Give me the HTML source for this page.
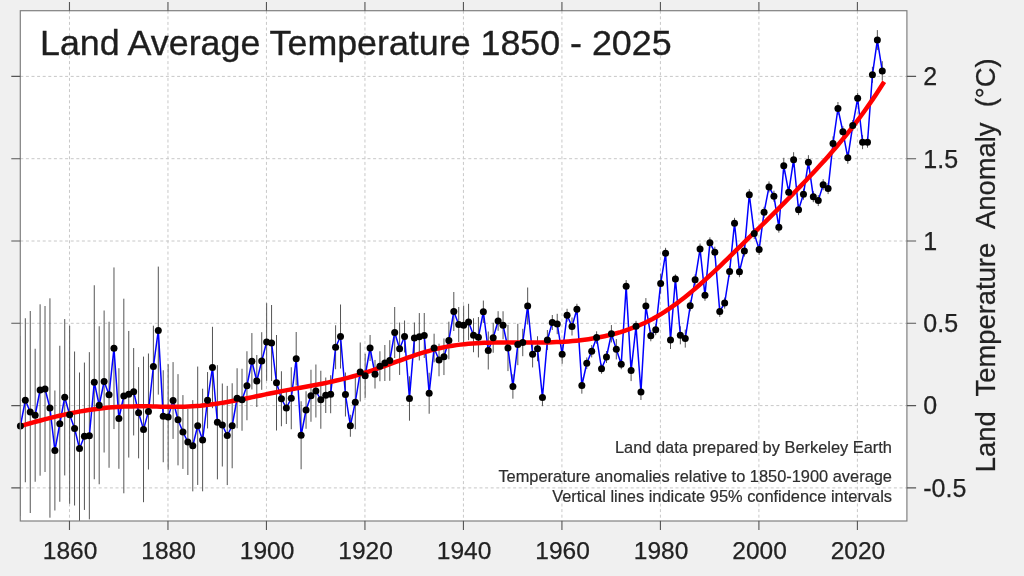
<!DOCTYPE html><html><head><meta charset="utf-8"><style>html,body{margin:0;padding:0;background:#f0f0f0;width:1024px;height:576px;overflow:hidden}svg{display:block;will-change:transform}text{font-family:"Liberation Sans",sans-serif}</style></head><body>
<svg width="1024" height="576" viewBox="0 0 1024 576">
<rect x="0" y="0" width="1024" height="576" fill="#f0f0f0"/>
<defs><clipPath id="pc"><rect x="20.3" y="10.7" width="886.6" height="510.3"/></clipPath></defs>
<rect x="20.3" y="10.7" width="886.6" height="510.3" fill="#ffffff"/>
<path d="M69.47 10.7V521.0M167.96 10.7V521.0M266.45 10.7V521.0M364.94 10.7V521.0M463.43 10.7V521.0M561.93 10.7V521.0M660.42 10.7V521.0M758.91 10.7V521.0M857.4 10.7V521.0M20.3 487.9H906.9M20.3 405.6H906.9M20.3 323.3H906.9M20.3 241H906.9M20.3 158.7H906.9M20.3 76.4H906.9" stroke="#c8c8c8" stroke-width="1" stroke-dasharray="3 2.6" fill="none"/>
<path d="M20.4 336V516M25.32 318.25V482.25M30.25 311V513M35.17 348.75V481.75M40.1 304.3V475.7M45.02 306V472M49.95 298.3V517.7M54.88 390.5V510.5M59.8 345.75V501.75M64.72 319.05V475.45M69.65 325.75V503.75M74.57 351.5V505.5M79.5 372.5V524.5M84.42 362.55V509.95M89.35 352.15V519.35M94.28 285.25V479.25M99.2 326.25V484.25M104.12 310.5V452.5M109.05 321.75V467.75M113.97 267.45V429.05M118.9 368.2V468.8M123.82 298.7V493.3M128.75 330.95V457.55M133.67 348.05V435.45M138.6 367.15V458.35M143.53 356.6V502.2M148.45 353.5V469.5M153.38 325.7V407.3M158.3 266.6V394.6M163.22 370.25V462.25M168.15 364.2V469.8M173.07 362.1V438.9M178 374.15V465.35M182.93 395.1V468.9M187.85 409V475M192.78 400.15V491.35M197.7 366.55V484.95M202.62 388.7V491.3M207.55 372.05V428.45M212.47 326.8V408.2M217.4 365.15V479.35M222.32 383.5V466.5M227.25 385.9V485.1M232.18 383.25V468.25M237.1 368.25V428.25M242.03 368.75V430.75M246.95 351.25V420.25M251.88 333.05V389.45M256.8 355V407M261.72 332.2V389.8M266.65 303.2V380.8M271.57 305V381M276.5 335V430.5M281.42 371.25V426.25M286.35 392V424M291.27 367.25V429.25M296.2 332V385.5M301.12 401.25V469.25M306.05 391.25V428.75M310.97 369.75V421.75M315.9 364.5V417.5M320.82 370.75V428.75M325.75 377.5V413M330.67 375.25V413.25M335.6 325.25V369.25M340.52 304.5V368.5M345.45 372.5V416.5M350.37 414.75V436.75M355.3 375.25V429.25M360.22 342.5V401.5M365.15 353.75V397.75M370.07 335V361M375 359.95V388.55M379.92 351.25V381.25M384.85 345V381M389.77 340.2V380.8M394.7 307V358M399.62 322.55V374.95M404.55 320.5V352.5M409.47 376.3V420.7M414.4 322.5V353.5M419.32 313.05V360.45M424.25 313V358M429.17 372.75V413.75M434.1 333.7V362.3M439.02 343.7V376.3M443.95 338.45V375.05M448.87 321.7V359.3M453.8 292V331M458.72 307V342M463.65 305.55V344.95M468.57 303.8V340.2M473.5 318.25V352.25M478.42 317.05V357.45M483.35 300.55V322.95M488.27 331.5V369.5M493.2 322.75V352.75M498.12 311.2V330.8M503.05 311.25V339.25M507.97 324.9V371.1M512.9 374.3V398.7M517.82 323.8V365.2M522.75 328.8V356.2M527.67 287.5V324.5M532.6 341.05V367.45M537.52 336.25V361.25M542.45 388.8V406.2M547.38 330V350M552.3 315V330M557.22 313.8V334.2M562.15 344.75V363.75M567.07 308.75V321.75M572 317.5V335.5M576.92 303.75V314.75M581.85 377.3V393.7M586.77 357.45V369.05M591.7 345.05V357.45M596.62 331.3V343.7M601.55 363.75V373.75M606.47 351V363M611.4 325.05V342.45M616.32 339.05V359.45M621.25 359.25V369.25M626.17 280.05V292.45M631.1 360.1V381.1M636.02 320.8V331.8M640.95 384V400M645.88 298.1V314.1M650.8 330.3V341.3M655.72 324.2V335.2M660.65 273.6V293.6M665.57 247.8V258.8M670.5 331V349M675.42 274.4V283.4M680.35 326.3V344.3M685.27 329.6V347.6M690.2 300.3V311.3M695.12 274.3V285.3M700.05 243.5V254.5M704.97 289.8V300.8M709.9 237.3V248.3M714.82 246.7V257.7M719.75 305.9V316.9M724.67 297.6V308.6M729.6 265.9V276.9M734.52 217.8V228.8M739.45 266.2V277.2M744.38 245.6V256.6M749.3 189.2V200.2M754.22 228.1V239.1M759.15 243.9V254.9M764.07 206.8V217.8M769 181.4V192.4M773.92 190.7V201.7M778.85 221.7V232.7M783.77 157.8V173.8M788.7 186.7V197.7M793.62 152.2V167.2M798.55 204.2V215.2M803.47 188.7V199.7M808.4 155.2V169.2M813.32 191.2V202.2M818.25 195.1V206.1M823.17 179.2V190.2M828.1 183.1V194.1M833.02 136.4V150.4M837.95 102V115M842.88 126.2V137.2M847.8 151.8V163.8M852.72 120.1V131.1M857.65 92.8V103.8M862.57 135.2V149.2M867.5 136.7V147.7M872.42 66.8V82.8M877.35 30.1V50.1M882.27 61.2V80.6" stroke="#555555" stroke-width="1" fill="none" clip-path="url(#pc)"/>
<polyline points="20.4,426 25.32,400.25 30.25,412 35.17,415.25 40.1,390 45.02,389 49.95,408 54.88,450.5 59.8,423.75 64.72,397.25 69.65,414.75 74.57,428.5 79.5,448.5 84.42,436.25 89.35,435.75 94.28,382.25 99.2,405.25 104.12,381.5 109.05,394.75 113.97,348.25 118.9,418.5 123.82,396 128.75,394.25 133.67,391.75 138.6,412.75 143.53,429.4 148.45,411.5 153.38,366.5 158.3,330.6 163.22,416.25 168.15,417 173.07,400.5 178,419.75 182.93,432 187.85,442 192.78,445.75 197.7,425.75 202.62,440 207.55,400.25 212.47,367.5 217.4,422.25 222.32,425 227.25,435.5 232.18,425.75 237.1,398.25 242.03,399.75 246.95,385.75 251.88,361.25 256.8,381 261.72,361 266.65,342 271.57,343 276.5,382.75 281.42,398.75 286.35,408 291.27,398.25 296.2,358.75 301.12,435.25 306.05,410 310.97,395.75 315.9,391 320.82,399.75 325.75,395.25 330.67,394.25 335.6,347.25 340.52,336.5 345.45,394.5 350.37,425.75 355.3,402.25 360.22,372 365.15,375.75 370.07,348 375,374.25 379.92,366.25 384.85,363 389.77,360.5 394.7,332.5 399.62,348.75 404.55,336.5 409.47,398.5 414.4,338 419.32,336.75 424.25,335.5 429.17,393.25 434.1,348 439.02,360 443.95,356.75 448.87,340.5 453.8,311.5 458.72,324.5 463.65,325.25 468.57,322 473.5,335.25 478.42,337.25 483.35,311.75 488.27,350.5 493.2,337.75 498.12,321 503.05,325.25 507.97,348 512.9,386.5 517.82,344.5 522.75,342.5 527.67,306 532.6,354.25 537.52,348.75 542.45,397.5 547.38,340 552.3,322.5 557.22,324 562.15,354.25 567.07,315.25 572,326.5 576.92,309.25 581.85,385.5 586.77,363.25 591.7,351.25 596.62,337.5 601.55,368.75 606.47,357 611.4,333.75 616.32,349.25 621.25,364.25 626.17,286.25 631.1,370.6 636.02,326.3 640.95,392 645.88,306.1 650.8,335.8 655.72,329.7 660.65,283.6 665.57,253.3 670.5,340 675.42,278.9 680.35,335.3 685.27,338.6 690.2,305.8 695.12,279.8 700.05,249 704.97,295.3 709.9,242.8 714.82,252.2 719.75,311.4 724.67,303.1 729.6,271.4 734.52,223.3 739.45,271.7 744.38,251.1 749.3,194.7 754.22,233.6 759.15,249.4 764.07,212.3 769,186.9 773.92,196.2 778.85,227.2 783.77,165.8 788.7,192.2 793.62,159.7 798.55,209.7 803.47,194.2 808.4,162.2 813.32,196.7 818.25,200.6 823.17,184.7 828.1,188.6 833.02,143.4 837.95,108.5 842.88,131.7 847.8,157.8 852.72,125.6 857.65,98.3 862.57,142.2 867.5,142.2 872.42,74.8 877.35,40.1 882.27,70.9" stroke="#0000ff" stroke-width="1.5" fill="none" stroke-linejoin="round"/>
<path d="M20.5 426.04 L24.5 424.89 L28.5 423.75 L32.5 422.63 L36.5 421.53 L40.5 420.46 L44.5 419.41 L48.5 418.38 L52.5 417.39 L56.5 416.43 L60.5 415.5 L64.5 414.6 L68.5 413.74 L72.5 412.92 L76.5 412.14 L80.5 411.4 L84.5 410.71 L88.5 410.06 L92.5 409.46 L96.5 408.91 L100.5 408.41 L104.5 407.97 L108.5 407.58 L112.5 407.24 L116.5 406.97 L120.5 406.76 L124.5 406.59 L128.5 406.48 L132.5 406.41 L136.5 406.36 L140.5 406.35 L144.5 406.35 L148.5 406.37 L152.5 406.45 L156.5 406.55 L160.5 406.65 L164.5 406.73 L168.5 406.79 L172.5 406.83 L176.5 406.83 L180.5 406.8 L184.5 406.71 L188.5 406.57 L192.5 406.37 L196.5 406.11 L200.5 405.79 L204.5 405.34 L208.5 404.85 L212.5 404.31 L216.5 403.72 L220.5 403.1 L224.5 402.44 L228.5 401.75 L232.5 401.02 L236.5 400.28 L240.5 399.51 L244.5 398.72 L248.5 397.92 L252.5 397.11 L256.5 396.29 L260.5 395.46 L264.5 394.64 L268.5 393.81 L272.5 393 L276.5 392.19 L280.5 391.39 L284.5 390.61 L288.5 389.85 L292.5 389.12 L296.5 388.4 L300.5 387.69 L304.5 386.98 L308.5 386.26 L312.5 385.53 L316.5 384.78 L320.5 384 L324.5 383.2 L328.5 382.36 L332.5 381.48 L336.5 380.56 L340.5 379.6 L344.5 378.61 L348.5 377.57 L352.5 376.48 L356.5 375.34 L360.5 374.16 L364.5 372.92 L368.5 371.62 L372.5 370.29 L376.5 368.91 L380.5 367.5 L384.5 366.07 L388.5 364.62 L392.5 363.17 L396.5 361.71 L400.5 360.27 L404.5 358.84 L408.5 357.44 L412.5 356.06 L416.5 354.73 L420.5 353.44 L424.5 352.21 L428.5 351.04 L432.5 349.94 L436.5 348.92 L440.5 347.99 L444.5 347.15 L448.5 346.4 L452.5 345.73 L456.5 345.14 L460.5 344.62 L464.5 344.17 L468.5 343.79 L472.5 343.46 L476.5 343.19 L480.5 342.98 L484.5 342.8 L488.5 342.67 L492.5 342.57 L496.5 342.51 L500.5 342.47 L504.5 342.46 L508.5 342.46 L512.5 342.47 L516.5 342.49 L520.5 342.52 L524.5 342.54 L528.5 342.56 L532.5 342.57 L536.5 342.56 L540.5 342.53 L544.5 342.47 L548.5 342.39 L552.5 342.27 L556.5 342.12 L560.5 341.92 L564.5 341.68 L568.5 341.4 L572.5 341.07 L576.5 340.68 L580.5 340.23 L584.5 339.72 L588.5 339.15 L592.5 338.51 L596.5 337.79 L600.5 337.01 L604.5 336.19 L608.5 335.3 L612.5 334.31 L616.5 333.24 L620.5 332.08 L624.5 330.81 L628.5 329.45 L632.5 327.98 L636.5 326.41 L640.5 324.72 L644.5 322.93 L648.5 321.01 L652.5 318.93 L656.5 316.7 L660.5 314.34 L664.5 311.86 L668.5 309.23 L672.5 306.47 L676.5 303.58 L680.5 300.56 L684.5 297.43 L688.5 294.19 L692.5 290.87 L696.5 287.45 L700.5 283.96 L704.5 280.37 L708.5 276.73 L712.5 273.04 L716.5 269.32 L720.5 265.55 L724.5 261.68 L728.5 257.79 L732.5 253.89 L736.5 249.98 L740.5 246.06 L744.5 242.12 L748.5 238.15 L752.5 234.25 L756.5 230.38 L760.5 226.49 L764.5 222.57 L768.5 218.63 L772.5 214.66 L776.5 210.67 L780.5 206.65 L784.5 202.6 L788.5 198.53 L792.5 194.43 L796.5 190.3 L800.5 186.14 L804.5 181.95 L808.5 177.73 L812.5 173.47 L816.5 169.17 L820.5 164.81 L824.5 160.39 L828.5 155.89 L832.5 151.32 L836.5 146.67 L840.5 141.92 L844.5 137.07 L848.5 132.11 L852.5 127.03 L856.5 121.83 L860.5 116.49 L864.5 111.02 L868.5 105.4 L872.5 99.62 L876.5 93.68 L880.5 87.56 L884.2 81.75" stroke="#ff0000" stroke-width="4.5" fill="none" stroke-linecap="butt" stroke-linejoin="round"/>
<g fill="#000000">
<circle cx="20.4" cy="426" r="3.5"/>
<circle cx="25.32" cy="400.25" r="3.5"/>
<circle cx="30.25" cy="412" r="3.5"/>
<circle cx="35.17" cy="415.25" r="3.5"/>
<circle cx="40.1" cy="390" r="3.5"/>
<circle cx="45.02" cy="389" r="3.5"/>
<circle cx="49.95" cy="408" r="3.5"/>
<circle cx="54.88" cy="450.5" r="3.5"/>
<circle cx="59.8" cy="423.75" r="3.5"/>
<circle cx="64.72" cy="397.25" r="3.5"/>
<circle cx="69.65" cy="414.75" r="3.5"/>
<circle cx="74.57" cy="428.5" r="3.5"/>
<circle cx="79.5" cy="448.5" r="3.5"/>
<circle cx="84.42" cy="436.25" r="3.5"/>
<circle cx="89.35" cy="435.75" r="3.5"/>
<circle cx="94.28" cy="382.25" r="3.5"/>
<circle cx="99.2" cy="405.25" r="3.5"/>
<circle cx="104.12" cy="381.5" r="3.5"/>
<circle cx="109.05" cy="394.75" r="3.5"/>
<circle cx="113.97" cy="348.25" r="3.5"/>
<circle cx="118.9" cy="418.5" r="3.5"/>
<circle cx="123.82" cy="396" r="3.5"/>
<circle cx="128.75" cy="394.25" r="3.5"/>
<circle cx="133.67" cy="391.75" r="3.5"/>
<circle cx="138.6" cy="412.75" r="3.5"/>
<circle cx="143.53" cy="429.4" r="3.5"/>
<circle cx="148.45" cy="411.5" r="3.5"/>
<circle cx="153.38" cy="366.5" r="3.5"/>
<circle cx="158.3" cy="330.6" r="3.5"/>
<circle cx="163.22" cy="416.25" r="3.5"/>
<circle cx="168.15" cy="417" r="3.5"/>
<circle cx="173.07" cy="400.5" r="3.5"/>
<circle cx="178" cy="419.75" r="3.5"/>
<circle cx="182.93" cy="432" r="3.5"/>
<circle cx="187.85" cy="442" r="3.5"/>
<circle cx="192.78" cy="445.75" r="3.5"/>
<circle cx="197.7" cy="425.75" r="3.5"/>
<circle cx="202.62" cy="440" r="3.5"/>
<circle cx="207.55" cy="400.25" r="3.5"/>
<circle cx="212.47" cy="367.5" r="3.5"/>
<circle cx="217.4" cy="422.25" r="3.5"/>
<circle cx="222.32" cy="425" r="3.5"/>
<circle cx="227.25" cy="435.5" r="3.5"/>
<circle cx="232.18" cy="425.75" r="3.5"/>
<circle cx="237.1" cy="398.25" r="3.5"/>
<circle cx="242.03" cy="399.75" r="3.5"/>
<circle cx="246.95" cy="385.75" r="3.5"/>
<circle cx="251.88" cy="361.25" r="3.5"/>
<circle cx="256.8" cy="381" r="3.5"/>
<circle cx="261.72" cy="361" r="3.5"/>
<circle cx="266.65" cy="342" r="3.5"/>
<circle cx="271.57" cy="343" r="3.5"/>
<circle cx="276.5" cy="382.75" r="3.5"/>
<circle cx="281.42" cy="398.75" r="3.5"/>
<circle cx="286.35" cy="408" r="3.5"/>
<circle cx="291.27" cy="398.25" r="3.5"/>
<circle cx="296.2" cy="358.75" r="3.5"/>
<circle cx="301.12" cy="435.25" r="3.5"/>
<circle cx="306.05" cy="410" r="3.5"/>
<circle cx="310.97" cy="395.75" r="3.5"/>
<circle cx="315.9" cy="391" r="3.5"/>
<circle cx="320.82" cy="399.75" r="3.5"/>
<circle cx="325.75" cy="395.25" r="3.5"/>
<circle cx="330.67" cy="394.25" r="3.5"/>
<circle cx="335.6" cy="347.25" r="3.5"/>
<circle cx="340.52" cy="336.5" r="3.5"/>
<circle cx="345.45" cy="394.5" r="3.5"/>
<circle cx="350.37" cy="425.75" r="3.5"/>
<circle cx="355.3" cy="402.25" r="3.5"/>
<circle cx="360.22" cy="372" r="3.5"/>
<circle cx="365.15" cy="375.75" r="3.5"/>
<circle cx="370.07" cy="348" r="3.5"/>
<circle cx="375" cy="374.25" r="3.5"/>
<circle cx="379.92" cy="366.25" r="3.5"/>
<circle cx="384.85" cy="363" r="3.5"/>
<circle cx="389.77" cy="360.5" r="3.5"/>
<circle cx="394.7" cy="332.5" r="3.5"/>
<circle cx="399.62" cy="348.75" r="3.5"/>
<circle cx="404.55" cy="336.5" r="3.5"/>
<circle cx="409.47" cy="398.5" r="3.5"/>
<circle cx="414.4" cy="338" r="3.5"/>
<circle cx="419.32" cy="336.75" r="3.5"/>
<circle cx="424.25" cy="335.5" r="3.5"/>
<circle cx="429.17" cy="393.25" r="3.5"/>
<circle cx="434.1" cy="348" r="3.5"/>
<circle cx="439.02" cy="360" r="3.5"/>
<circle cx="443.95" cy="356.75" r="3.5"/>
<circle cx="448.87" cy="340.5" r="3.5"/>
<circle cx="453.8" cy="311.5" r="3.5"/>
<circle cx="458.72" cy="324.5" r="3.5"/>
<circle cx="463.65" cy="325.25" r="3.5"/>
<circle cx="468.57" cy="322" r="3.5"/>
<circle cx="473.5" cy="335.25" r="3.5"/>
<circle cx="478.42" cy="337.25" r="3.5"/>
<circle cx="483.35" cy="311.75" r="3.5"/>
<circle cx="488.27" cy="350.5" r="3.5"/>
<circle cx="493.2" cy="337.75" r="3.5"/>
<circle cx="498.12" cy="321" r="3.5"/>
<circle cx="503.05" cy="325.25" r="3.5"/>
<circle cx="507.97" cy="348" r="3.5"/>
<circle cx="512.9" cy="386.5" r="3.5"/>
<circle cx="517.82" cy="344.5" r="3.5"/>
<circle cx="522.75" cy="342.5" r="3.5"/>
<circle cx="527.67" cy="306" r="3.5"/>
<circle cx="532.6" cy="354.25" r="3.5"/>
<circle cx="537.52" cy="348.75" r="3.5"/>
<circle cx="542.45" cy="397.5" r="3.5"/>
<circle cx="547.38" cy="340" r="3.5"/>
<circle cx="552.3" cy="322.5" r="3.5"/>
<circle cx="557.22" cy="324" r="3.5"/>
<circle cx="562.15" cy="354.25" r="3.5"/>
<circle cx="567.07" cy="315.25" r="3.5"/>
<circle cx="572" cy="326.5" r="3.5"/>
<circle cx="576.92" cy="309.25" r="3.5"/>
<circle cx="581.85" cy="385.5" r="3.5"/>
<circle cx="586.77" cy="363.25" r="3.5"/>
<circle cx="591.7" cy="351.25" r="3.5"/>
<circle cx="596.62" cy="337.5" r="3.5"/>
<circle cx="601.55" cy="368.75" r="3.5"/>
<circle cx="606.47" cy="357" r="3.5"/>
<circle cx="611.4" cy="333.75" r="3.5"/>
<circle cx="616.32" cy="349.25" r="3.5"/>
<circle cx="621.25" cy="364.25" r="3.5"/>
<circle cx="626.17" cy="286.25" r="3.5"/>
<circle cx="631.1" cy="370.6" r="3.5"/>
<circle cx="636.02" cy="326.3" r="3.5"/>
<circle cx="640.95" cy="392" r="3.5"/>
<circle cx="645.88" cy="306.1" r="3.5"/>
<circle cx="650.8" cy="335.8" r="3.5"/>
<circle cx="655.72" cy="329.7" r="3.5"/>
<circle cx="660.65" cy="283.6" r="3.5"/>
<circle cx="665.57" cy="253.3" r="3.5"/>
<circle cx="670.5" cy="340" r="3.5"/>
<circle cx="675.42" cy="278.9" r="3.5"/>
<circle cx="680.35" cy="335.3" r="3.5"/>
<circle cx="685.27" cy="338.6" r="3.5"/>
<circle cx="690.2" cy="305.8" r="3.5"/>
<circle cx="695.12" cy="279.8" r="3.5"/>
<circle cx="700.05" cy="249" r="3.5"/>
<circle cx="704.97" cy="295.3" r="3.5"/>
<circle cx="709.9" cy="242.8" r="3.5"/>
<circle cx="714.82" cy="252.2" r="3.5"/>
<circle cx="719.75" cy="311.4" r="3.5"/>
<circle cx="724.67" cy="303.1" r="3.5"/>
<circle cx="729.6" cy="271.4" r="3.5"/>
<circle cx="734.52" cy="223.3" r="3.5"/>
<circle cx="739.45" cy="271.7" r="3.5"/>
<circle cx="744.38" cy="251.1" r="3.5"/>
<circle cx="749.3" cy="194.7" r="3.5"/>
<circle cx="754.22" cy="233.6" r="3.5"/>
<circle cx="759.15" cy="249.4" r="3.5"/>
<circle cx="764.07" cy="212.3" r="3.5"/>
<circle cx="769" cy="186.9" r="3.5"/>
<circle cx="773.92" cy="196.2" r="3.5"/>
<circle cx="778.85" cy="227.2" r="3.5"/>
<circle cx="783.77" cy="165.8" r="3.5"/>
<circle cx="788.7" cy="192.2" r="3.5"/>
<circle cx="793.62" cy="159.7" r="3.5"/>
<circle cx="798.55" cy="209.7" r="3.5"/>
<circle cx="803.47" cy="194.2" r="3.5"/>
<circle cx="808.4" cy="162.2" r="3.5"/>
<circle cx="813.32" cy="196.7" r="3.5"/>
<circle cx="818.25" cy="200.6" r="3.5"/>
<circle cx="823.17" cy="184.7" r="3.5"/>
<circle cx="828.1" cy="188.6" r="3.5"/>
<circle cx="833.02" cy="143.4" r="3.5"/>
<circle cx="837.95" cy="108.5" r="3.5"/>
<circle cx="842.88" cy="131.7" r="3.5"/>
<circle cx="847.8" cy="157.8" r="3.5"/>
<circle cx="852.72" cy="125.6" r="3.5"/>
<circle cx="857.65" cy="98.3" r="3.5"/>
<circle cx="862.57" cy="142.2" r="3.5"/>
<circle cx="867.5" cy="142.2" r="3.5"/>
<circle cx="872.42" cy="74.8" r="3.5"/>
<circle cx="877.35" cy="40.1" r="3.5"/>
<circle cx="882.27" cy="70.9" r="3.5"/>
</g>
<rect x="20.3" y="10.7" width="886.6" height="510.3" fill="none" stroke="#808080" stroke-width="1.2"/>
<path d="M69.47 10.7V2M69.47 521.0V529.9M167.96 10.7V2M167.96 521.0V529.9M266.45 10.7V2M266.45 521.0V529.9M364.94 10.7V2M364.94 521.0V529.9M463.43 10.7V2M463.43 521.0V529.9M561.93 10.7V2M561.93 521.0V529.9M660.42 10.7V2M660.42 521.0V529.9M758.91 10.7V2M758.91 521.0V529.9M857.4 10.7V2M857.4 521.0V529.9M20.3 487.9H11.3M906.9 487.9H916.1M20.3 405.6H11.3M906.9 405.6H916.1M20.3 323.3H11.3M906.9 323.3H916.1M20.3 241H11.3M906.9 241H916.1M20.3 158.7H11.3M906.9 158.7H916.1M20.3 76.4H11.3M906.9 76.4H916.1" stroke="#555555" stroke-width="1.1" fill="none"/>
<g fill="#222222" font-size="24.5" stroke="#222222" stroke-width="0.25">
<text x="70.07" y="559.2" text-anchor="middle">1860</text>
<text x="168.56" y="559.2" text-anchor="middle">1880</text>
<text x="267.05" y="559.2" text-anchor="middle">1900</text>
<text x="365.54" y="559.2" text-anchor="middle">1920</text>
<text x="464.03" y="559.2" text-anchor="middle">1940</text>
<text x="562.53" y="559.2" text-anchor="middle">1960</text>
<text x="661.02" y="559.2" text-anchor="middle">1980</text>
<text x="759.51" y="559.2" text-anchor="middle">2000</text>
<text x="858" y="559.2" text-anchor="middle">2020</text>
</g>
<g fill="#222222" font-size="25" stroke="#222222" stroke-width="0.25">
<text x="923.3" y="496.7">-0.5</text>
<text x="923.3" y="414.4">0</text>
<text x="923.3" y="332.1">0.5</text>
<text x="923.3" y="249.8">1</text>
<text x="923.3" y="167.5">1.5</text>
<text x="923.3" y="85.2">2</text>
</g>
<text x="40" y="55.3" font-size="35.8" fill="#1e1e1e" stroke="#1e1e1e" stroke-width="0.35">Land Average Temperature 1850 - 2025</text>
<g fill="#2e2e2e" font-size="16.4" text-anchor="end" stroke="#2e2e2e" stroke-width="0.2">
<text x="892" y="452.5">Land data prepared by Berkeley Earth</text>
<text x="892" y="481.9">Temperature anomalies relative to 1850-1900 average</text>
<text x="892" y="501.5">Vertical lines indicate 95% confidence intervals</text>
</g>
<text transform="translate(995.1 472.2) rotate(-90)" font-size="27.4" fill="#222222" stroke="#222222" stroke-width="0.25" xml:space="preserve">Land  Temperature  Anomaly  (°C)</text>
</svg></body></html>
